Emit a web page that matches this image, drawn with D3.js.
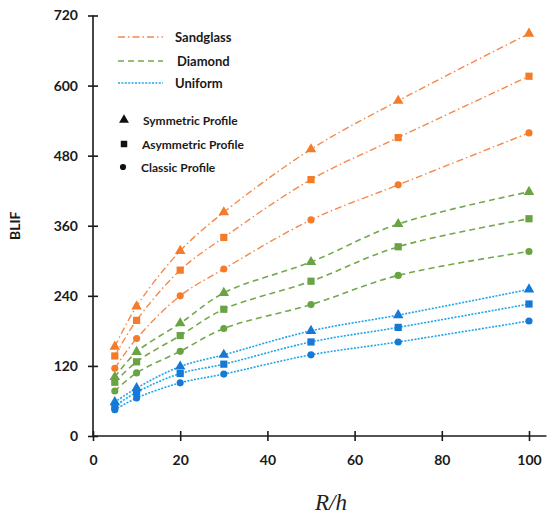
<!DOCTYPE html>
<html>
<head>
<meta charset="utf-8">
<script src="https://cdn.jsdelivr.net/npm/d3@7"></script>
<style>
  body { margin: 0; background: #fff; }
  svg { display: block; }
  .axis text { font-family: Lato, "Open Sans", sans-serif; font-weight: bold; font-size: 14px; fill: #1a1a1a; }
  .axis path, .axis line { stroke: #1a1a1a; stroke-width: 1.6; }
  .leg { font-family: Lato, "Open Sans", sans-serif; font-weight: bold; fill: #1a1a1a; }
</style>
</head>
<body>
<svg id="chart" width="547" height="519"></svg>
<script>
// data
var ratio = [5, 10, 20, 30, 50, 70, 100]

var sandSym = [153, 222, 317, 383, 491, 574, 689]
var sandAsym = [137, 198, 284, 340, 439, 511, 616]
var sandClassic = [116, 167, 240, 286, 370, 430, 519]

var diaSym = [101, 144, 193, 245, 298, 363, 418]
var diaAsym = [92, 127, 172, 217, 265, 324, 372]
var diaClassic = [77, 108, 145, 184, 225, 275, 316]

var uniSym = [58, 82, 119, 139, 180, 207, 251]
var uniAsym = [51, 75, 107, 123, 161, 186, 226]
var uniClassic = [45, 65, 91, 106, 139, 161, 197]

var xTicks = [0, 20, 40, 60, 80, 100]
var yTicks = [0, 120, 240, 360, 480, 600, 720]

var shapes = ['Symmetric Profile', 'Asymmetric Profile', 'Classic Profile']
var designs = ['Sandglass', 'Diamond', 'Uniform']

var styles = {
    Sandglass: { line: '#f5884a', mark: '#f47b2a', dash: '7,3,1.5,3', width: 1.4 },
    Diamond: { line: '#74a84c', mark: '#6aa343', dash: '6,4', width: 1.6 },
    Uniform: { line: '#1ea5ec', mark: '#1679d6', dash: '2,1.4', width: 1.6 }
}

var series = [
    { design: 'Sandglass', shape: 0, values: sandSym },
    { design: 'Sandglass', shape: 1, values: sandAsym },
    { design: 'Sandglass', shape: 2, values: sandClassic },
    { design: 'Diamond', shape: 0, values: diaSym },
    { design: 'Diamond', shape: 1, values: diaAsym },
    { design: 'Diamond', shape: 2, values: diaClassic },
    { design: 'Uniform', shape: 0, values: uniSym },
    { design: 'Uniform', shape: 1, values: uniAsym },
    { design: 'Uniform', shape: 2, values: uniClassic }
]

var svg = d3.select('#chart')

var x = d3.scaleLinear().domain([0, 100]).range([93, 529])
var y = d3.scaleLinear().domain([0, 720]).range([436, 15.5])

var symbolTypes = [d3.symbolTriangle, d3.symbolSquare, d3.symbolCircle]
var symbolSizes = [48, 52, 40]

// axes
var gx = svg.append('g').attr('class', 'axis').attr('transform', 'translate(0,' + y(0) + ')')
    .call(d3.axisBottom(x).tickValues(xTicks).tickSize(5).tickPadding(14))
gx.select('.domain').remove()
gx.insert('line', ':first-child').attr('x1', x(0)).attr('x2', x(104)).attr('y1', 0).attr('y2', 0)
gx.selectAll('.tick line').attr('y1', -5).attr('y2', 5)

var gy = svg.append('g').attr('class', 'axis').attr('transform', 'translate(' + x(0) + ',0)')
    .call(d3.axisLeft(y).tickValues(yTicks).tickSize(5).tickPadding(10))
gy.select('.domain').remove()
gy.insert('line', ':first-child').attr('x1', 0).attr('x2', 0).attr('y1', y(0)).attr('y2', y(720))
gy.selectAll('.tick line').attr('x1', -5).attr('x2', 5)

// axis titles
svg.append('text').attr('class', 'leg')
    .attr('transform', 'translate(20,' + y(360) + ') rotate(-90)')
    .attr('text-anchor', 'middle').attr('font-size', 14).text('BLIF')

svg.append('text')
    .attr('x', (x(0) + x(100)) / 2 + 20).attr('y', 510)
    .attr('text-anchor', 'middle')
    .attr('font-family', '"Liberation Serif", "DejaVu Serif", serif')
    .attr('font-style', 'italic').attr('font-size', 23).attr('fill', '#222')
    .text('R/h')

// lines
var line = d3.line()
    .x(function (d, i) { return x(ratio[i]) })
    .y(function (d) { return y(d) })
    .curve(d3.curveCatmullRom.alpha(0.5))

series.forEach(function (s) {
    var st = styles[s.design]
    svg.append('path').datum(s.values)
        .attr('d', line)
        .attr('fill', 'none')
        .attr('stroke', st.line)
        .attr('stroke-width', st.width)
        .attr('stroke-dasharray', st.dash)
})

// markers
series.forEach(function (s) {
    var st = styles[s.design]
    svg.append('g').selectAll('path').data(s.values).enter().append('path')
        .attr('transform', function (d, i) { return 'translate(' + x(ratio[i]) + ',' + y(d) + ')' })
        .attr('d', d3.symbol().type(symbolTypes[s.shape]).size(symbolSizes[s.shape]))
        .attr('fill', st.mark)
})

// legend: line styles
var legLineY = [37, 61, 83]
var legTextX = [175, 177, 175]
designs.forEach(function (name, i) {
    var st = styles[name]
    svg.append('line')
        .attr('x1', 118).attr('x2', 163)
        .attr('y1', legLineY[i]).attr('y2', legLineY[i])
        .attr('stroke', st.line).attr('stroke-width', st.width)
        .attr('stroke-dasharray', st.dash)
    svg.append('text').attr('class', 'leg')
        .attr('x', legTextX[i]).attr('y', legLineY[i] + 4.5)
        .attr('font-size', 13).text(name)
})

// legend: marker shapes
var legMarkY = [120, 144, 167]
var legMarkX = [124, 124, 123]
var legShapeTextX = [143, 142, 141]
shapes.forEach(function (name, i) {
    svg.append('path')
        .attr('transform', 'translate(' + legMarkX[i] + ',' + legMarkY[i] + ')')
        .attr('d', d3.symbol().type(symbolTypes[i]).size(i == 2 ? 30 : 42))
        .attr('fill', '#111')
    svg.append('text').attr('class', 'leg')
        .attr('x', legShapeTextX[i]).attr('y', legMarkY[i] + 4.5)
        .attr('font-size', 12).text(name)
})
</script>
</body>
</html>
